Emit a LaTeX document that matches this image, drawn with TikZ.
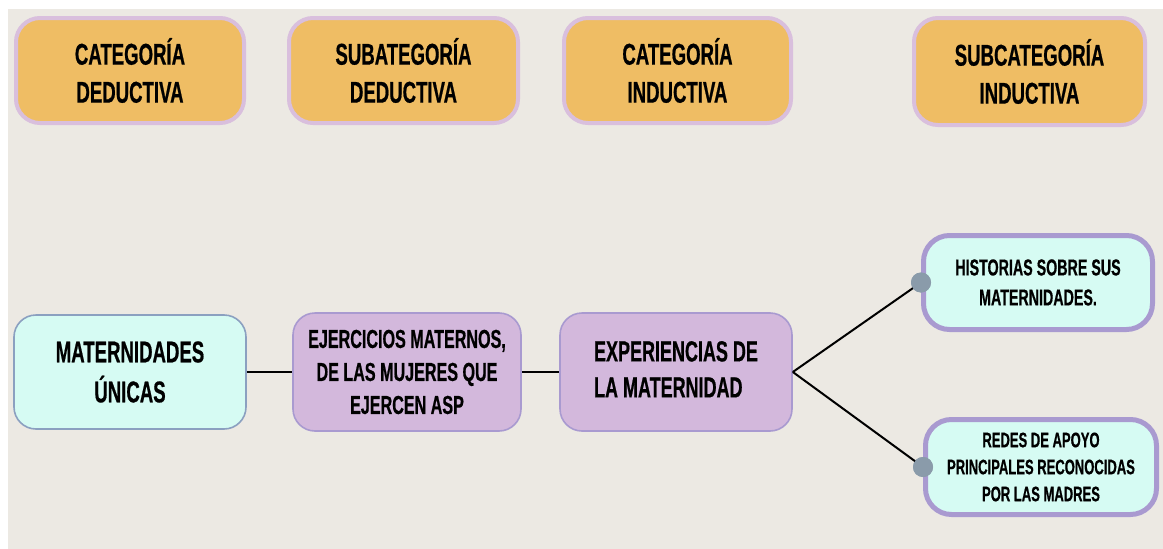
\documentclass[tikz,border=0pt]{standalone}
\usepackage{fontspec}
\newfontfamily\cf[FakeStretch=0.62,FakeBold=0.6]{Liberation Sans}
\definecolor{paper}{HTML}{ECE9E3}
\definecolor{orangefill}{HTML}{EFBD64}
\definecolor{lilacline}{HTML}{D9BFDD}
\definecolor{cyanfill}{HTML}{D6FBF3}
\definecolor{blueline}{HTML}{8BA0C0}
\definecolor{purplefill}{HTML}{D3B8DC}
\definecolor{purpleline}{HTML}{A99AD0}
\definecolor{dotfill}{HTML}{8A9BAA}
\tikzset{
  basebox/.style={rounded corners=24pt, align=center, inner sep=0pt, text=black},
  headbox/.style={basebox, fill=orangefill, draw=lilacline, line width=4pt,
    font={\cf\bfseries\fontsize{30}{38}\selectfont}},
  mainbox/.style={basebox, fill=cyanfill, draw=blueline, line width=1.6pt, rounded corners=22pt,
    font={\cf\bfseries\fontsize{30}{40}\selectfont}},
  midbox/.style={basebox, fill=purplefill, draw=purpleline, line width=1.6pt, rounded corners=22pt},
  leafbox/.style={basebox, fill=cyanfill, draw=purpleline, line width=5pt, rounded corners=26pt},
  link/.style={draw=black, line width=2pt},
  dot/.style={circle, fill=dotfill, minimum size=20pt, inner sep=0pt},
}
\begin{document}
\begin{tikzpicture}[x=1pt, y=-1pt]
\useasboundingbox (0,0) rectangle (1163,549);
\fill[white] (0,0) rectangle (1163,549);
\fill[paper] (8,9) rectangle (1163,549);

% header row
\node[headbox, minimum width=228pt, minimum height=105pt] (h1) at (130,70.5) {CATEGORÍA\\DEDUCTIVA};
\node[headbox, minimum width=229pt, minimum height=105pt] (h2) at (403.5,70.5) {SUBATEGORÍA\\DEDUCTIVA};
\node[headbox, minimum width=227pt, minimum height=105pt] (h3) at (677.5,70.5) {CATEGORÍA\\INDUCTIVA};
\node[headbox, minimum width=231pt, minimum height=107pt] (h4) at (1029.5,71.5) {SUBCATEGORÍA\\INDUCTIVA};

% lower row
\node[mainbox, minimum width=232pt, minimum height=114pt] (m1) at (130,372) {MATERNIDADES\\ÚNICAS};
\node[midbox, minimum width=228pt, minimum height=118pt,
  font={\cf\bfseries\fontsize{26}{33}\selectfont}] (m2) at (407,372)
  {EJERCICIOS MATERNOS,\\DE LAS MUJERES QUE\\EJERCEN ASP};
\node[midbox, minimum width=232pt, minimum height=118pt,
  font={\cf\bfseries\fontsize{29}{37}\selectfont}] (m3) at (676,372)
  {\begin{tabular}{@{}l@{}}EXPERIENCIAS DE\\[-1pt]LA MATERNIDAD\end{tabular}};

\node[leafbox, minimum width=229pt, minimum height=94pt,
  font={\cf\bfseries\fontsize{23}{30}\selectfont}] (l1) at (1038,282.5)
  {HISTORIAS SOBRE SUS\\MATERNIDADES.};
\node[leafbox, minimum width=231pt, minimum height=95pt,
  font={\cf\bfseries\fontsize{21}{27}\selectfont}] (l2) at (1041,467)
  {REDES DE APOYO\\PRINCIPALES RECONOCIDAS\\POR LAS MADRES};

% connectors
\draw[link] (m1.east) -- (m2.west);
\draw[link] (m2.east) -- (m3.west);
\node[dot] (d1) at (l1.west) {};
\node[dot] (d2) at (l2.west) {};
\draw[link] (m3.east) -- (d1.center);
\draw[link] (m3.east) -- (d2.center);
\node[dot] at (l1.west) {};
\node[dot] at (l2.west) {};
\end{tikzpicture}
\end{document}
